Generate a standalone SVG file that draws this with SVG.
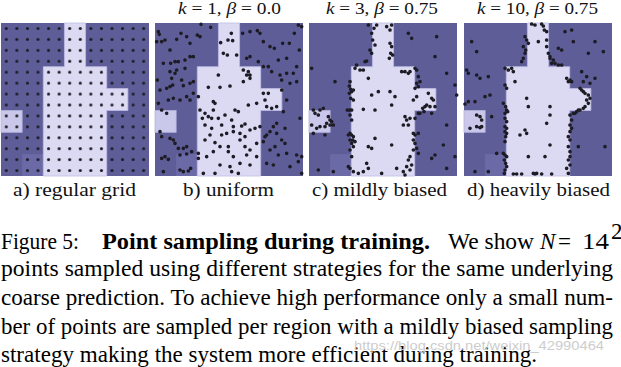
<svg xmlns="http://www.w3.org/2000/svg" xmlns:xlink="http://www.w3.org/1999/xlink" width="621" height="367" viewBox="0 0 621 367">
<style>
.lbl{font-size:19px;fill:#111}
.ttl{font-size:17px;fill:#111}
.cap{font-size:23px;fill:#000}
.dots{fill:none;stroke:#1d1c24;stroke-linecap:round;stroke-width:11}
.wm{font-size:13px;fill:#cdcdcd}
</style>
<defs>
<g id="map">
<rect x="0" y="0" width="148" height="153" fill="#5e5d98"/>
<rect x="21.14" y="131.14" width="21.15" height="21.86" fill="#6b69a6"/>
<rect x="0" y="87.43" width="21.14" height="21.86" fill="#cac8ea" stroke="#b4b2dc" stroke-width="0.8"/>
<path d="M63.43 0H84.57V43.71H105.71V65.57H126.86V87.43H105.71V153H42.29V43.71H63.43Z" fill="#dcdaf3" stroke="#bfbde4" stroke-width="0.8"/>
</g>
<pattern id="grid" x="1" y="23" width="10.5714" height="10.9286" patternUnits="userSpaceOnUse">
<circle cx="5.29" cy="5.46" r="1.55" fill="#1d1c24"/>
</pattern>
</defs>

<g id="panel-a">
<use xlink:href="#map" x="1" y="23"/>
<rect x="1" y="23" width="148" height="153" fill="url(#grid)"/>
<text class="lbl" font-family="Liberation Serif, serif" x="13" y="196" textLength="123" lengthAdjust="spacingAndGlyphs">a) regular grid</text>
</g>

<g id="panel-b">
<text class="ttl" font-family="Liberation Serif, serif" x="178" y="14" textLength="103" lengthAdjust="spacingAndGlyphs"><tspan font-style="italic">k</tspan> = 1, <tspan font-style="italic">β</tspan> = 0.0</text>
<use xlink:href="#map" x="155" y="23"/>
<path class="dots" transform="translate(150 0) scale(0.33333)" d="M25 95h0M28 103h0M35 125h0M20 125h0M45 120h0M93 100h0M110 110h0M120 130h0M142 105h0M150 110h0M153 73h0M182 82h0M244 100h0M234 120h0M248 122h0M212 128h0M278 100h0M300 95h0M322 92h0M330 100h0M340 125h0M360 140h0M373 145h0M398 130h0M418 130h0M445 75h0M455 80h0M433 100h0M448 150h0M80 118h0M60 150h0M40 190h0M62 190h0M75 185h0M85 185h0M105 180h0M120 170h0M130 170h0M105 205h0M80 210h0M60 215h0M75 220h0M65 235h0M95 240h0M22 240h0M30 270h0M50 265h0M60 260h0M68 255h0M100 257h0M120 250h0M130 245h0M25 310h0M35 330h0M55 300h0M70 295h0M90 300h0M110 290h0M120 300h0M130 280h0M50 340h0M30 395h0M35 410h0M60 415h0M70 420h0M75 430h0M85 445h0M100 445h0M110 440h0M90 465h0M110 462h0M125 455h0M45 470h0M35 475h0M55 478h0M40 515h0M90 510h0M100 515h0M115 513h0M122 505h0M220 160h0M232 165h0M260 165h0M290 175h0M300 170h0M205 225h0M175 262h0M210 262h0M240 258h0M280 245h0M290 225h0M300 235h0M145 290h0M190 305h0M195 310h0M150 330h0M165 340h0M190 330h0M255 330h0M265 335h0M295 315h0M320 310h0M157 355h0M175 350h0M185 355h0M205 355h0M225 345h0M245 360h0M165 375h0M185 385h0M215 375h0M250 380h0M275 378h0M285 372h0M300 390h0M315 385h0M330 380h0M180 405h0M215 405h0M230 400h0M250 395h0M270 400h0M285 410h0M165 420h0M195 428h0M210 440h0M235 440h0M270 420h0M285 440h0M300 450h0M320 430h0M145 460h0M170 470h0M190 455h0M235 455h0M250 470h0M290 465h0M320 470h0M210 495h0M240 500h0M270 490h0M300 495h0M195 520h0M245 515h0M265 520h0M160 520h0M145 475h0M340 280h0M355 280h0M345 300h0M350 320h0M365 325h0M380 320h0M395 270h0M450 355h0M405 385h0M380 370h0M370 380h0M360 395h0M380 400h0M395 420h0M405 430h0M375 440h0M350 405h0M345 410h0M340 425h0M360 450h0M385 465h0M410 460h0M440 465h0M455 470h0M350 490h0M370 495h0M420 500h0M445 485h0M455 520h0M400 335h0M410 300h0M280 210h0M295 215h0M300 225h0M325 185h0M340 200h0M355 200h0M385 180h0M410 175h0M365 215h0M390 225h0M410 220h0M430 220h0M440 200h0M440 245h0M420 250h0M395 240h0"/>
<text class="lbl" font-family="Liberation Serif, serif" x="183" y="196" textLength="91" lengthAdjust="spacingAndGlyphs">b) uniform</text>
</g>

<g id="panel-c">
<text class="ttl" font-family="Liberation Serif, serif" x="326" y="14" textLength="112" lengthAdjust="spacingAndGlyphs"><tspan font-style="italic">k</tspan> = 3, <tspan font-style="italic">β</tspan> = 0.75</text>
<use xlink:href="#map" x="309" y="23"/>
<path class="dots" transform="translate(300 0) scale(0.33333)" d="M205 75h0M230 75h0M222 85h0M260 80h0M275 75h0M270 90h0M215 100h0M218 120h0M225 135h0M210 150h0M215 160h0M270 130h0M275 140h0M272 160h0M278 165h0M268 175h0M200 183h0M195 185h0M170 195h0M180 210h0M190 210h0M165 205h0M305 215h0M315 215h0M330 215h0M325 220h0M345 205h0M350 210h0M150 245h0M148 258h0M152 268h0M160 270h0M155 275h0M148 280h0M152 295h0M160 300h0M142 330h0M150 330h0M155 330h0M150 345h0M155 360h0M150 400h0M145 405h0M155 405h0M160 410h0M150 420h0M158 420h0M165 425h0M155 430h0M160 440h0M150 450h0M155 470h0M150 505h0M145 500h0M160 515h0M355 230h0M360 245h0M350 250h0M355 260h0M345 265h0M350 290h0M340 300h0M355 340h0M345 355h0M330 355h0M320 360h0M325 375h0M340 400h0M345 405h0M355 400h0M340 420h0M345 430h0M350 445h0M340 450h0M355 460h0M330 470h0M325 480h0M335 495h0M320 500h0M330 510h0M310 515h0M315 525h0M385 280h0M395 295h0M400 300h0M380 315h0M375 320h0M368 325h0M390 320h0M372 335h0M360 340h0M395 340h0M405 320h0M40 330h0M45 340h0M55 345h0M60 330h0M70 325h0M85 350h0M90 360h0M95 365h0M80 370h0M75 380h0M90 375h0M60 380h0M50 385h0M35 375h0M40 400h0M75 405h0M100 375h0M205 235h0M215 285h0M235 275h0M270 275h0M285 290h0M275 315h0M190 328h0M225 330h0M315 350h0M310 375h0M225 415h0M205 440h0M215 445h0M275 435h0M200 490h0M205 505h0M190 515h0M175 520h0M245 520h0M290 505h0M35 205h0M105 245h0M325 100h0M335 115h0M410 110h0M405 170h0M440 220h0M465 255h0M470 285h0M440 375h0M430 435h0M405 465h0M395 475h0M465 470h0M440 505h0M100 515h0M55 510h0"/>
<text class="lbl" font-family="Liberation Serif, serif" x="312" y="196" textLength="135" lengthAdjust="spacingAndGlyphs">c) mildly biased</text>
</g>

<g id="panel-d">
<text class="ttl" font-family="Liberation Serif, serif" x="477" y="14" textLength="121" lengthAdjust="spacingAndGlyphs"><tspan font-style="italic">k</tspan> = 10, <tspan font-style="italic">β</tspan> = 0.75</text>
<use xlink:href="#map" x="464" y="23"/>
<path class="dots" transform="translate(455 0) scale(0.33333)" d="M230 72h0M240 75h0M260 72h0M265 78h0M268 90h0M275 95h0M210 110h0M215 120h0M220 130h0M205 140h0M212 150h0M210 160h0M205 175h0M200 185h0M275 120h0M275 140h0M280 160h0M285 170h0M295 180h0M290 190h0M285 175h0M300 190h0M310 195h0M320 195h0M250 125h0M170 205h0M175 215h0M150 205h0M160 210h0M335 235h0M345 240h0M340 245h0M350 245h0M150 255h0M155 265h0M145 310h0M152 320h0M155 330h0M158 335h0M150 340h0M150 355h0M155 365h0M150 380h0M155 385h0M150 395h0M155 400h0M152 410h0M150 425h0M145 460h0M150 465h0M155 470h0M148 480h0M152 490h0M155 500h0M150 510h0M148 520h0M345 345h0M350 360h0M345 375h0M350 385h0M345 395h0M340 410h0M345 420h0M340 440h0M345 455h0M345 470h0M340 480h0M345 495h0M335 505h0M340 520h0M375 265h0M380 270h0M385 275h0M390 280h0M400 285h0M405 295h0M395 300h0M400 310h0M390 320h0M385 325h0M375 330h0M365 335h0M355 340h0M360 340h0M370 330h0M175 522h0M185 522h0M200 522h0M235 520h0M240 522h0M245 520h0M260 522h0M290 522h0M65 345h0M75 350h0M80 360h0M65 380h0M75 383h0M80 380h0M45 385h0M110 350h0M215 295h0M220 320h0M180 245h0M285 320h0M285 345h0M275 370h0M210 390h0M215 400h0M195 405h0M220 470h0M270 470h0M285 435h0M50 125h0M65 155h0M35 210h0M40 220h0M65 225h0M75 235h0M100 230h0M90 290h0M105 285h0M60 305h0M40 305h0M30 312h0M125 460h0M60 515h0M100 515h0M355 125h0M330 95h0M350 90h0M320 150h0M310 145h0M400 160h0M420 125h0M445 155h0M380 215h0M395 230h0M385 245h0M405 250h0M420 235h0M450 440h0M370 440h0"/>
<text class="lbl" font-family="Liberation Serif, serif" x="467" y="196" textLength="143" lengthAdjust="spacingAndGlyphs">d) heavily biased</text>
</g>

<g id="caption" font-family="Liberation Serif, serif">
<text class="cap" x="1" y="248.5" textLength="78" lengthAdjust="spacingAndGlyphs">Figure 5:</text>
<text class="cap" x="102" y="248.5" font-weight="bold" textLength="328" lengthAdjust="spacingAndGlyphs">Point sampling during training.</text>
<text class="cap" x="448" y="248.5" textLength="86" lengthAdjust="spacingAndGlyphs">We show</text>
<text class="cap" x="540" y="248.5" font-style="italic">N</text>
<text class="cap" x="558" y="248.5">=</text>
<text class="cap" x="582" y="248.5" textLength="27" lengthAdjust="spacingAndGlyphs">14</text>
<text class="cap" x="611" y="239" font-size="15">2</text>
<text class="cap" x="1" y="276" textLength="612" lengthAdjust="spacingAndGlyphs">points sampled using different strategies for the same underlying</text>
<text class="cap" x="1" y="305" textLength="612" lengthAdjust="spacingAndGlyphs">coarse prediction. To achieve high performance only a small num-</text>
<text class="cap" x="1" y="334" textLength="612" lengthAdjust="spacingAndGlyphs">ber of points are sampled per region with a mildly biased sampling</text>
<text class="cap" x="1" y="361.5" textLength="536" lengthAdjust="spacingAndGlyphs">strategy making the system more efficient during training.</text>
<text class="wm" font-family="Liberation Sans, sans-serif" x="354" y="350" textLength="250" lengthAdjust="spacingAndGlyphs">https://blog.csdn.net/weixin_42990464</text>
</g>
</svg>
